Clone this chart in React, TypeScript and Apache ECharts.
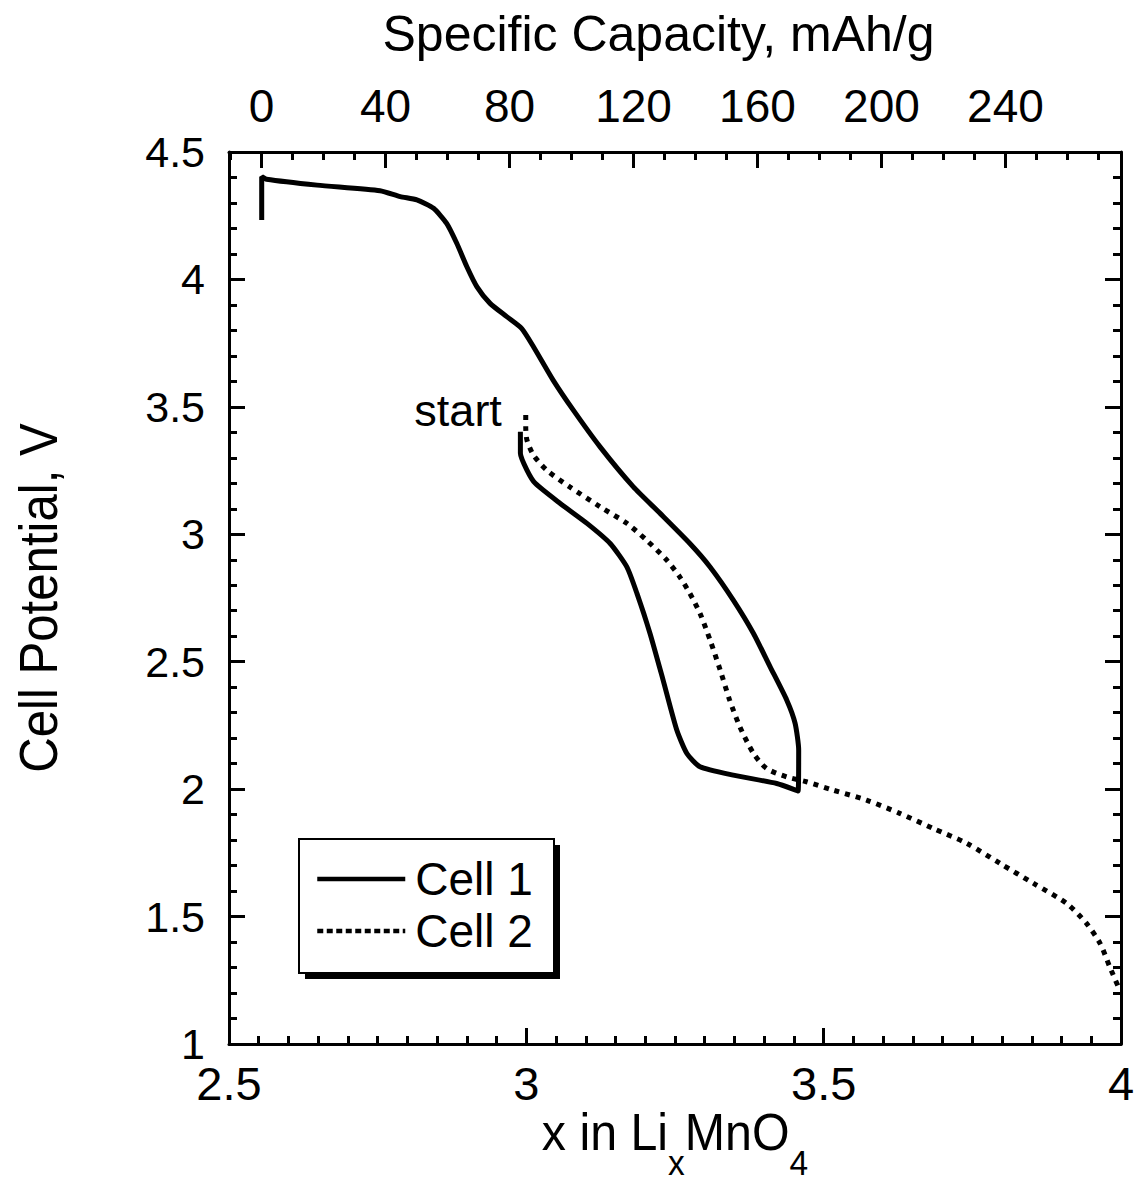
import React, { useEffect, useRef } from 'react';
import * as echarts from 'echarts';

// x in LixMnO4 (bottom axis) and cell potential, V (left axis)
const cell1X = [2.990, 2.990, 3.001, 3.015, 3.057, 3.102, 3.141, 3.169, 3.186, 3.208, 3.230, 3.253, 3.270, 3.292, 3.348, 3.421, 3.457,
  3.458,
  3.452, 3.438, 3.410, 3.382, 3.348, 3.309, 3.275, 3.225, 3.180, 3.124, 3.079, 3.045, 3.012, 2.992, 2.967, 2.939, 2.917, 2.900, 2.883, 2.866, 2.844, 2.816, 2.788, 2.754, 2.648, 2.563, 2.555, 2.555];
const cell1V = [3.402, 3.318, 3.252, 3.200, 3.121, 3.043, 2.964, 2.872, 2.768, 2.611, 2.428, 2.232, 2.140, 2.088, 2.055, 2.022, 1.993,
  2.153,
  2.258, 2.349, 2.480, 2.611, 2.742, 2.872, 2.964, 3.082, 3.186, 3.343, 3.487, 3.605, 3.736, 3.808, 3.854, 3.906, 3.971, 4.050, 4.142, 4.220, 4.279, 4.312, 4.325, 4.348, 4.370, 4.393, 4.403, 4.233];

const cell2X = [2.999, 2.999, 3.001, 3.012, 3.034, 3.073, 3.124, 3.169, 3.202, 3.236, 3.258, 3.275, 3.292, 3.309, 3.326, 3.342, 3.359, 3.382, 3.404, 3.438, 3.471, 3.516, 3.572, 3.628, 3.684, 3.741, 3.797, 3.853, 3.909, 3.942, 3.965, 3.981, 3.998];
const cell2V = [3.468, 3.422, 3.370, 3.311, 3.252, 3.186, 3.108, 3.043, 2.977, 2.899, 2.833, 2.768, 2.690, 2.585, 2.467, 2.349, 2.245, 2.140, 2.081, 2.048, 2.029, 1.996, 1.957, 1.905, 1.846, 1.787, 1.708, 1.630, 1.551, 1.473, 1.394, 1.303, 1.211];

const seriesNames = ['Cell 1', 'Cell 2'];

// axes
const xMin = 2.5;
const xMax = 4;
const xStep = 0.5;
const vMin = 1;
const vMax = 4.5;
const vStep = 0.5;

// top axis: specific capacity, mAh/g
const xAtZeroCapacity = 2.5547;
const capacityPerX = 191.84;
const capacityLabels = [0, 40, 80, 120, 160, 200, 240];
const capacityMinorTicks = [-10, 0, 10, 20, 30, 40, 50, 60, 70, 80, 90, 100, 110, 120, 130, 140, 150, 160, 170, 180, 190, 200, 210, 220, 230, 240, 250, 260, 270];

const titleTop = 'Specific Capacity, mAh/g';
const titleLeft = 'Cell Potential, V';
const titleBottom = '{m|x in Li}{s|x}{m|MnO}{s|4}';
const startNote = { x: 2.99, v: 3.487, text: 'start' };

const REG = "'Liberation Sans', Arial, sans-serif";

export default function App() {
  const ref = useRef<HTMLDivElement>(null);
  useEffect(() => {
    document.body.style.margin = '0';
    if (!ref.current) return;
    const chart = echarts.init(ref.current, undefined, { renderer: 'svg' });
    const zip = (xs: number[], ys: number[]) => xs.map((x, i) => [x, ys[i]]);
    const capMin = (xMin - xAtZeroCapacity) * capacityPerX;
    const capMax = (xMax - xAtZeroCapacity) * capacityPerX;
    const axisLine = { show: true, onZero: false, lineStyle: { color: '#000', width: 3 } };
    const majorTick = { show: true, inside: true, length: 16, lineStyle: { color: '#000', width: 3 } };
    const minorTickY = { show: true, splitNumber: 5, length: 8, lineStyle: { color: '#000', width: 3 } };
    const minorTickX = { show: true, splitNumber: 10, length: 8, lineStyle: { color: '#000', width: 3 } };

    chart.setOption({
      animation: false,
      backgroundColor: '#fff',
      grid: { left: 229, right: 19, top: 152, bottom: 139, containLabel: false },
      xAxis: [
        {
          type: 'value', position: 'bottom', min: xMin, max: xMax, interval: xStep,
          axisLine, axisTick: majorTick, minorTick: minorTickX, splitLine: { show: false },
          axisLabel: { color: '#000', fontSize: 47, fontFamily: REG, margin: 20, lineHeight: 38 },
        },
        {
          type: 'value', position: 'top', min: capMin, max: capMax,
          axisLine, splitLine: { show: false },
          axisTick: { ...majorTick, customValues: capacityLabels },
          axisLabel: { color: '#000', fontSize: 46, fontFamily: REG, margin: 20, lineHeight: 52, customValues: capacityLabels },
          name: titleTop, nameLocation: 'middle', nameGap: 94,
          nameTextStyle: { color: '#000', fontSize: 50, fontFamily: REG, lineHeight: 48, padding: [0, 33, 0, 0] },
        },
        {
          type: 'value', position: 'top', min: capMin, max: capMax,
          axisLine: { show: false }, splitLine: { show: false }, axisLabel: { show: false },
          axisTick: { show: true, inside: true, length: 8, lineStyle: { color: '#000', width: 3 }, customValues: capacityMinorTicks },
        },
      ],
      yAxis: [
        {
          type: 'value', position: 'left', min: vMin, max: vMax, interval: vStep,
          axisLine, axisTick: majorTick, minorTick: minorTickY, splitLine: { show: false },
          axisLabel: { color: '#000', fontSize: 43, fontFamily: REG, margin: 24, lineHeight: 28 },
        },
        {
          type: 'value', position: 'right', min: vMin, max: vMax, interval: vStep,
          axisLine, axisTick: majorTick, minorTick: minorTickY, splitLine: { show: false },
          axisLabel: { show: false },
        },
      ],
      legend: {
        data: [
          { name: seriesNames[0], lineStyle: { width: 4.5, type: 'solid' } },
          { name: seriesNames[1], lineStyle: { width: 4.5, type: [6, 3.5] } },
        ],
        orient: 'vertical', left: 299, top: 839, z: 10,
        padding: [17, 10, 10, 16], itemWidth: 88, itemHeight: 46, itemGap: 6,
        backgroundColor: 'transparent', borderWidth: 0,
        itemStyle: { color: 'rgba(0,0,0,0)', borderColor: 'rgba(0,0,0,0)', borderWidth: 0 },
        lineStyle: { width: 4.5, color: '#000' },
        textStyle: { color: '#000', fontSize: 46, fontFamily: REG, lineHeight: 46, padding: [0, 0, 0, 5] },
      },
      graphic: [
        { type: 'rect', z: 1, silent: true, shape: { x: 305, y: 845, width: 255, height: 134 }, style: { fill: '#000' } },
        { type: 'rect', z: 2, silent: true, shape: { x: 299, y: 839, width: 255, height: 134 }, style: { fill: '#fff', stroke: '#000', lineWidth: 2 } },
        {
          type: 'text', z: 5, silent: true, x: 38, y: 598, rotation: Math.PI / 2, scaleX: 0.91,
          style: { text: titleLeft, fontSize: 54, fontFamily: REG, fill: '#000', align: 'center', verticalAlign: 'middle', textAlign: 'center', textVerticalAlign: 'middle' },
        },
        {
          type: 'text', z: 5, silent: true, x: 675, y: 1106, scaleX: 0.93,
          style: {
            text: titleBottom, fill: '#000', fontFamily: REG, fontSize: 52,
            align: 'center', verticalAlign: 'top', textAlign: 'center', textVerticalAlign: 'top',
            rich: {
              m: { fontSize: 52, lineHeight: 52, verticalAlign: 'top', fontFamily: REG, fill: '#000' },
              s: { fontSize: 36, lineHeight: 114, verticalAlign: 'middle', fontFamily: REG, fill: '#000' },
            },
          },
        },
      ],
      series: [
        {
          name: seriesNames[0], type: 'line', xAxisIndex: 0, yAxisIndex: 0,
          data: zip(cell1X, cell1V), symbol: 'none', smooth: 0.2, z: 3,
          lineStyle: { color: '#000', width: 5, type: 'solid' }, itemStyle: { color: '#000' },
        },
        {
          name: seriesNames[1], type: 'line', xAxisIndex: 0, yAxisIndex: 0,
          data: zip(cell2X, cell2V), symbol: 'none', smooth: 0.25, z: 3,
          lineStyle: { color: '#000', width: 5, type: [5, 6], cap: 'butt' }, itemStyle: { color: '#000' },
          markPoint: {
            symbol: 'circle', symbolSize: 1, itemStyle: { color: 'rgba(0,0,0,0)' },
            data: [{ coord: [startNote.x, startNote.v], name: startNote.text }],
            label: { show: true, position: 'left', distance: 18, formatter: startNote.text, color: '#000', fontSize: 45, fontFamily: REG },
          },
        },
      ],
    });
    return () => chart.dispose();
  }, []);
  return <div ref={ref} style={{ width: 1140, height: 1183 }} />;
}
